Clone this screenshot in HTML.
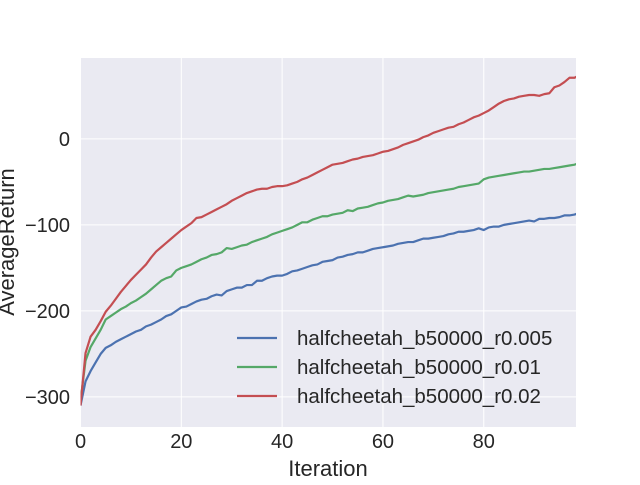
<!DOCTYPE html>
<html><head><meta charset="utf-8"><style>
body{margin:0;background:#fff}
svg text{font-family:"Liberation Sans","DejaVu Sans",sans-serif;fill:#262626}
</style></head><body>
<svg id="chart" width="640" height="480" xmlns="http://www.w3.org/2000/svg"></svg>
<script>
const xTicks=[0,20,40,60,80];
const yTicks=[0,-100,-200,-300];
const yTickLabels=["0","\u2212100","\u2212200","\u2212300"];
const seriesNames=["halfcheetah_b50000_r0.005","halfcheetah_b50000_r0.01","halfcheetah_b50000_r0.02"];
const blue=[-310,-282,-270,-260,-250,-243,-240,-236,-233,-230,-227,-224,-222,-218,-216,-213,-210,-206,-204,-200,-196,-195,-192,-189,-187,-186,-183,-181,-182,-177,-175,-173,-173,-170,-170,-165,-165,-162,-160,-159,-159,-157,-154,-153,-151,-149,-147,-146,-143,-142,-141,-138,-137,-135,-134,-132,-132,-130,-128,-127,-126,-125,-124,-122,-121,-120,-120,-118,-116,-116,-115,-114,-113,-111,-110,-108,-108,-107,-106,-104,-106,-103,-102,-102,-100,-99,-98,-97,-96,-95,-96,-93,-93,-92,-92,-91,-89,-89,-88,-86];
const green=[-305,-258,-242,-232,-222,-210,-206,-202,-198,-195,-191,-188,-184,-180,-175,-170,-165,-162,-160,-153,-150,-148,-146,-143,-140,-138,-135,-134,-132,-127,-128,-126,-124,-123,-120,-118,-116,-114,-111,-109,-107,-105,-103,-100,-97,-97,-94,-92,-90,-90,-88,-87,-86,-83,-84,-81,-80,-79,-77,-75,-74,-72,-71,-70,-68,-66,-67,-66,-65,-63,-62,-61,-60,-59,-58,-56,-55,-54,-53,-52,-47,-45,-44,-43,-42,-41,-40,-39,-38,-38,-37,-36,-35,-35,-34,-33,-32,-31,-30,-28];
const red=[-310,-249,-230,-222,-212,-201,-194,-186,-178,-171,-164,-158,-152,-146,-138,-131,-126,-121,-116,-111,-106,-102,-98,-92,-91,-88,-85,-82,-79,-76,-72,-69,-66,-63,-61,-59,-58,-58,-56,-55,-55,-54,-52,-50,-47,-45,-42,-39,-36,-33,-30,-29,-28,-26,-24,-23,-21,-20,-19,-17,-15,-14,-12,-10,-7,-5,-3,-1,2,4,7,9,11,13,14,17,19,22,25,27,30,33,37,41,44,46,47,49,50,51,51,50,52,53,60,62,66,71,71,74];
const allSeries=[blue,green,red];
const colors=["#4C72B0","#55A868","#C44E52"];

const L=80.5,R=576,T=58,B=427,xMin=0,xMax=98.3,yMin=-335,yMax=94;
const sx=v=>L+(v-xMin)/(xMax-xMin)*(R-L);
const sy=v=>B-(v-yMin)/(yMax-yMin)*(B-T);
const svg=document.getElementById('chart');
const NS="http://www.w3.org/2000/svg";
function mk(tag,attrs,parent){const e=document.createElementNS(NS,tag);for(const k in attrs)e.setAttribute(k,attrs[k]);(parent||svg).appendChild(e);return e;}

const defs=mk('defs',{});
const cp=mk('clipPath',{id:'clip'},defs);
mk('rect',{x:L,y:T,width:R-L,height:B-T},cp);

const bg=mk('rect',{x:L,y:T,width:R-L,height:B-T,fill:'#EAEAF2'});



xTicks.forEach(t=>{
  const g=mk('line',{x1:sx(t),x2:sx(t),y1:T,y2:B,stroke:'#fff','stroke-width':1});
  
  
  const tx=mk('text',{x:sx(t),y:448,'text-anchor':'middle','font-size':20});
  tx.textContent=t;
  
  
});
yTicks.forEach((t,i)=>{
  const g=mk('line',{x1:L,x2:R,y1:sy(t),y2:sy(t),stroke:'#fff','stroke-width':1});
  
  
  const tx=mk('text',{x:70,y:sy(t)+7,'text-anchor':'end','font-size':20});
  tx.textContent=yTickLabels[i];
  
  
});

const lines=mk('g',{'clip-path':'url(#clip)'});
allSeries.forEach((s,k)=>{
  const d=s.map((v,i)=>(i?'L':'M')+sx(i).toFixed(2)+','+sy(v).toFixed(2)).join(' ');
  const p=mk('path',{d:d,fill:'none',stroke:colors[k],'stroke-width':2.2,'stroke-linejoin':'round'},lines);
  
  
});

seriesNames.forEach((n,k)=>{
  const y=338+k*29;
  const ln=mk('line',{x1:237,x2:277,y1:y,y2:y,stroke:colors[k],'stroke-width':2.2});
  
  
  const tx=mk('text',{x:297,y:y+7,'font-size':20.5});
  tx.textContent=n;
  
  
});

const xl=mk('text',{x:328,y:476,'text-anchor':'middle','font-size':22});
xl.textContent='Iteration';


const yl=mk('text',{x:0,y:0,'text-anchor':'middle','font-size':22,transform:'translate(14,242) rotate(-90)'});
yl.textContent='AverageReturn';


</script>
</body></html>
